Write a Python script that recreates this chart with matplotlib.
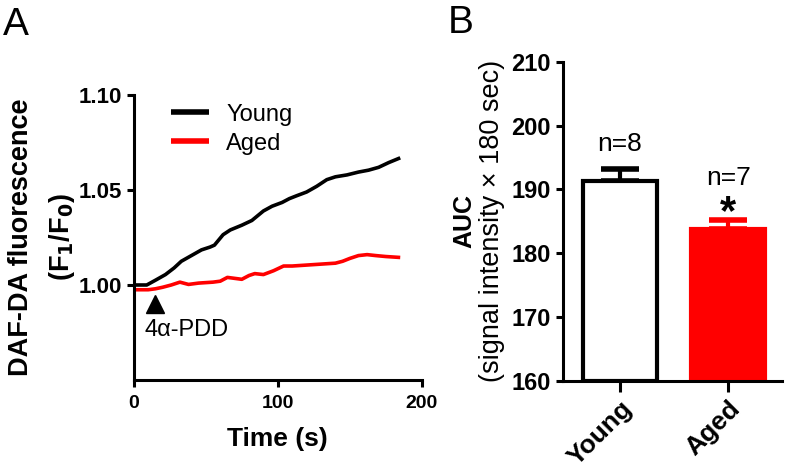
import matplotlib
matplotlib.use("Agg")
import matplotlib.pyplot as plt

plt.rcParams['font.family'] = ['Liberation Sans', 'DejaVu Sans']

# panel A: DAF-DA fluorescence time course
time_young = [0, 5, 9, 15, 22, 28, 33, 40, 47, 53, 56, 62, 67, 75, 82, 90, 96,
              103, 108, 113, 120, 127, 134, 140, 148, 156, 163, 170, 177, 185]
young = [1.000, 1.000, 1.000, 1.0025, 1.0055, 1.009, 1.0125, 1.0155, 1.0185,
         1.020, 1.021, 1.0265, 1.029, 1.0315, 1.034, 1.039, 1.0415, 1.0435,
         1.0455, 1.047, 1.049, 1.052, 1.0555, 1.057, 1.058, 1.0595, 1.0605,
         1.062, 1.0645, 1.067]
time_aged = [0, 5, 10, 15, 20, 26, 32, 38, 45, 55, 60, 65, 70, 75, 80, 84, 90,
             97, 104, 110, 120, 130, 140, 145, 150, 156, 162, 168, 175, 185]
aged = [0.9975, 0.9975, 0.9975, 0.998, 0.9988, 1.000, 1.0015, 1.0003, 1.001,
        1.0015, 1.002, 1.004, 1.0035, 1.003, 1.005, 1.006, 1.0055, 1.0075,
        1.010, 1.010, 1.0105, 1.011, 1.0115, 1.0125, 1.014, 1.0155, 1.016,
        1.0155, 1.015, 1.0145]
drug_time = 15
drug_label = '4\u03b1-PDD'

# panel B: AUC
groups = ['Young', 'Aged']
auc_mean = [191.3, 183.8]
auc_sem = [1.9, 1.4]
n_labels = ['n=8', 'n=7']
bar_colors = ['white', '#ff0000']
edge_colors = ['black', '#ff0000']

fig = plt.figure(figsize=(7.87, 4.69), dpi=100)
axA = fig.add_axes([0.170, 0.190, 0.366, 0.607])
axB = fig.add_axes([0.715, 0.188, 0.279, 0.680])

for ax in (axA, axB):
    for s in ('top', 'right'):
        ax.spines[s].set_visible(False)
    for s in ('left', 'bottom'):
        ax.spines[s].set_linewidth(2.2)
    ax.tick_params(width=2.2, length=5, direction='out')

# ---- panel A
axA.plot(time_young, young, color='black', lw=2.6, label='Young',
         solid_capstyle='butt')
axA.plot(time_aged, aged, color='#ff0000', lw=2.6, label='Aged',
         solid_capstyle='butt')
axA.plot([drug_time], [0.9898], marker='^', color='black', ms=13, ls='none')
axA.text(drug_time - 7.5, 0.9762, drug_label, fontsize=17, va='center',
         ha='left')
axA.set_xlim(0, 200)
axA.set_ylim(0.95, 1.10)
axA.set_xticks([0, 100, 200])
axA.set_yticks([1.00, 1.05, 1.10])
axA.set_yticklabels(['1.00', '1.05', '1.10'])
axA.tick_params(axis='x', pad=6)
for lab in axA.get_xticklabels():
    lab.set_fontsize(14)
    lab.set_fontweight('bold')
for lab in axA.get_yticklabels():
    lab.set_fontsize(16)
    lab.set_fontweight('bold')
axA.set_xlabel('Time (s)', fontsize=19, fontweight='bold', labelpad=11)
axA.text(-0.39, 0.5, 'DAF-DA fluorescence', transform=axA.transAxes,
         rotation=90, fontsize=19.5, fontweight='bold', ha='center', va='center')
axA.text(-0.25, 0.5, '(F$_\\mathbf{1}$/F$_\\mathbf{0}$)', transform=axA.transAxes,
         rotation=90, fontsize=19.5, fontweight='bold', ha='center', va='center')
leg = axA.legend(loc='upper left', bbox_to_anchor=(0.055, 1.045), frameon=False,
                 fontsize=17, handlelength=1.6, handletextpad=0.75,
                 labelspacing=0.3)
for h in leg.get_lines():
    h.set_linewidth(4)

# ---- panel B
xpos = list(range(len(groups)))
axB.bar(xpos, [m - 160 for m in auc_mean], bottom=160, width=0.68,
        color=bar_colors, edgecolor=edge_colors, linewidth=3, zorder=2)
for x, m, e, c in zip(xpos, auc_mean, auc_sem, edge_colors):
    axB.errorbar(x, m, yerr=[[0], [e]], color=c, lw=3, capsize=14,
                 capthick=4, zorder=1)
axB.text(0, auc_mean[0] + auc_sem[0] + 3.9, n_labels[0], fontsize=19,
         ha='center', va='center')
axB.text(1, auc_mean[1] + auc_sem[1] + 6.6, n_labels[1], fontsize=19,
         ha='center', va='center')
axB.text(1, auc_mean[1] + auc_sem[1] - 2.0, '*', fontsize=30,
         fontweight='bold', ha='center', va='bottom', zorder=3)
axB.set_xlim(-0.53, 1.5)
axB.set_ylim(160, 210)
axB.set_yticks(range(160, 211, 10))
axB.set_xticks(xpos)
axB.set_xticklabels(groups, rotation=45, ha='right', va='top',
                    rotation_mode='anchor', fontsize=19, fontweight='bold')
axB.tick_params(axis='x', length=8)
for lab in axB.get_yticklabels():
    lab.set_fontsize(17)
    lab.set_fontweight('bold')
axB.text(-0.45, 0.5, 'AUC', transform=axB.transAxes, rotation=90,
         fontsize=18, fontweight='bold', ha='center', va='center')
axB.text(-0.32, 0.5, '(signal intensity \u00d7 180 sec)', transform=axB.transAxes,
         rotation=90, fontsize=19.5, ha='center', va='center')

fig.text(0.004, 0.985, 'A', fontsize=28, ha='left', va='top')
fig.text(0.569, 0.99, 'B', fontsize=28, ha='left', va='top')

fig.savefig('out.png', dpi=100)
